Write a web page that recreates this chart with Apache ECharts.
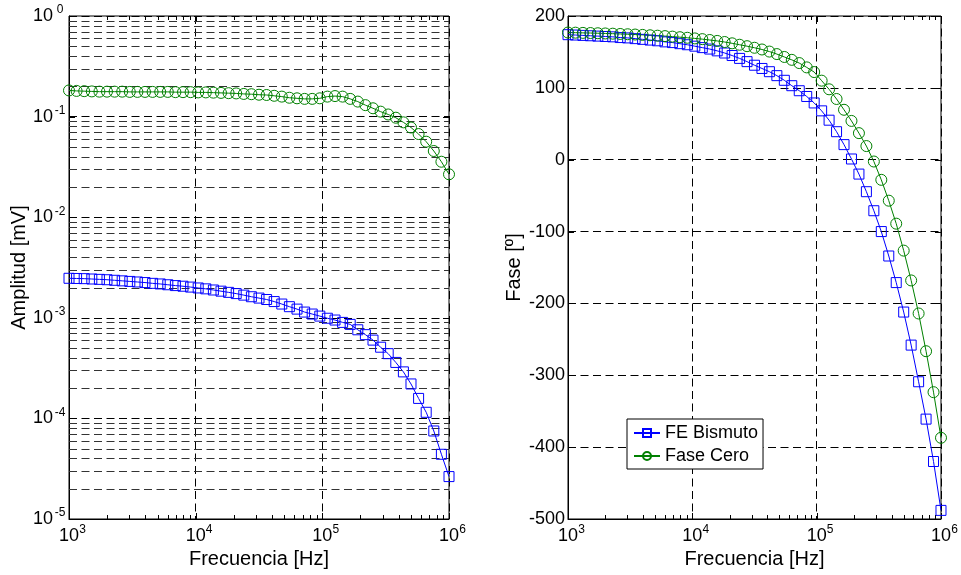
<!DOCTYPE html>
<html><head><meta charset="utf-8">
<script src="https://cdn.jsdelivr.net/npm/echarts@6/dist/echarts.min.js"></script>
<style>html,body{margin:0;padding:0;background:#fff}#c{width:961px;height:575px}</style>
</head><body><div id="c"></div>
<script>
// ---- data ----
const freq = [1000, 1148, 1318, 1514, 1738, 1995, 2291, 2630, 3020, 3467, 3981, 4571, 5248, 6026, 6918, 7943, 9120,
  10471, 12023, 13804, 15849, 18197, 20893, 23988, 27542, 31623, 36308, 41687, 47863, 54954, 63096, 72444, 83176, 95499,
  109648, 125893, 144544, 165959, 190546, 218776, 251189, 288403, 331131, 380189, 436516, 501187, 575440, 660693, 758578, 870964, 1000000];
const ampBismuto = [0.00247, 0.00246, 0.00245, 0.00243, 0.00241, 0.00239, 0.00236, 0.00233, 0.00230, 0.00227, 0.00224,
  0.00220, 0.00217, 0.00213, 0.00209, 0.00206, 0.00202, 0.00198, 0.00194, 0.00189, 0.00184, 0.00179, 0.00174, 0.00168,
  0.00162, 0.00157, 0.00152, 0.00145, 0.00137, 0.00129, 0.00122, 0.00114, 0.00109, 0.00104, 0.00099, 0.00095, 0.00090,
  0.00086, 0.00076, 0.00068, 0.00060, 0.00051, 0.00044, 0.00036, 0.00029, 0.00022, 0.000158, 0.000115, 0.000075, 0.000044, 0.0000264];
const ampCero = [0.182, 0.180, 0.179, 0.178, 0.177, 0.177, 0.177, 0.177, 0.176, 0.176, 0.176, 0.176, 0.176, 0.176, 0.175,
  0.175, 0.175, 0.174, 0.174, 0.173, 0.172, 0.171, 0.170, 0.168, 0.167, 0.165, 0.164, 0.161, 0.158, 0.154, 0.152, 0.150,
  0.150, 0.152, 0.158, 0.160, 0.158, 0.150, 0.141, 0.130, 0.121, 0.112, 0.105, 0.0975, 0.0877, 0.0779, 0.0671, 0.0563, 0.0455, 0.0356, 0.0267];
const phaseBismuto = [174, 173.5, 173, 172.5, 172, 171.5, 171, 170, 169.5, 168.5, 167.5, 166.5, 165.5, 164, 163, 161.5, 160,
  158, 156, 154, 151.5, 148.5, 145, 141, 136.5, 131.5, 127, 122.5, 117, 110.5, 103, 96, 88, 79, 68, 55, 39, 21, 1, -20,
  -44.5, -71, -100, -134, -171, -212, -258, -309, -361, -420, -488];
const phaseCero = [177, 176.8, 176.5, 176.3, 176, 175.7, 175.4, 175, 174.6, 174.2, 173.7, 173.2, 172.6, 172, 171.3, 170.5,
  169.7, 168.8, 167.8, 166.6, 165.3, 163.8, 162, 160, 158, 155.8, 153.4, 150.5, 147, 143, 139, 134.5, 128.5, 122, 110, 98,
  84.5, 69.5, 54, 37, 19, -2.5, -28, -57, -89, -126.5, -168, -214, -266.5, -323.5, -387];
const seriesNames = ['FE Bismuto', 'Fase Cero'];
const xTickExp = [3, 4, 5, 6];
const ampTickExp = [0, -1, -2, -3, -4, -5];
const phaseTicks = [200, 100, 0, -100, -200, -300, -400, -500];
const minorMult = [2, 3, 4, 5, 6, 7, 8, 9];

// ---- helpers ----
const FONT = 'Liberation Sans, Arial, Helvetica, sans-serif';
const BLUE = '#0000ff', GREEN = '#008000';
const zip = (xs, ys) => xs.map((x, i) => [x, ys[i]]);
const pow10 = e => Math.pow(10, e);
const xMajors = xTickExp.map(pow10);
const xMinors = [];
xTickExp.slice(0, -1).forEach(e => minorMult.forEach(m => xMinors.push(m * pow10(e))));
const ampMajors = ampTickExp.map(pow10);
const ampMinors = [];
ampTickExp.slice(1).forEach(e => minorMult.forEach(m => ampMinors.push(m * pow10(e))));
const xMin = xMajors[0], xMax = xMajors[xMajors.length - 1];
const ampMin = Math.min(...ampMajors), ampMax = Math.max(...ampMajors);
const phMin = Math.min(...phaseTicks), phMax = Math.max(...phaseTicks);

// kinds: 0 x-major tick, 1 x-minor tick, 2 y-major tick, 3 y-minor tick, 4 y-minor grid line
function decoData(yRef, yMajors, yMinors, withGrid) {
  const d = [];
  xMajors.forEach(v => d.push([v, yRef, 0]));
  xMinors.forEach(v => d.push([v, yRef, 1]));
  yMajors.forEach(v => d.push([xMin, v, 2]));
  yMinors.forEach(v => d.push([xMin, v, 3]));
  if (withGrid) yMinors.forEach(v => d.push([xMin, v, 4]));
  return d;
}
const LINE_STYLE = { stroke: '#000', lineWidth: 1 };
function renderDeco(params, api) {
  const kind = api.value(2);
  const cs = params.coordSys;
  const p = api.coord([api.value(0), api.value(1)]);
  const L = (kind === 0 || kind === 2) ? 6 : 4;
  const els = [];
  if (kind === 0 || kind === 1) {
    const x = Math.round(p[0]) + 0.5, yb = cs.y + cs.height, yt = cs.y;
    els.push({ type: 'line', shape: { x1: x, y1: yb, x2: x, y2: yb - L }, style: LINE_STYLE });
    els.push({ type: 'line', shape: { x1: x, y1: yt, x2: x, y2: yt + L }, style: LINE_STYLE });
  } else if (kind === 2 || kind === 3) {
    const y = Math.round(p[1]) + 0.5, xl = cs.x, xr = cs.x + cs.width;
    els.push({ type: 'line', shape: { x1: xl, y1: y, x2: xl + L, y2: y }, style: LINE_STYLE });
    els.push({ type: 'line', shape: { x1: xr, y1: y, x2: xr - L, y2: y }, style: LINE_STYLE });
  } else {
    const y = Math.round(p[1]) + 0.5;
    els.push({ type: 'line', shape: { x1: cs.x, y1: y, x2: cs.x + cs.width, y2: y },
      style: { stroke: '#333', lineWidth: 1, lineDash: [8, 4.5] } });
  }
  return { type: 'group', children: els };
}

const richX = {
  p: { width: 7, fontSize: 12, fontFamily: FONT },
  b: { fontSize: 18, lineHeight: 24, color: '#000', fontFamily: FONT },
  s: { fontSize: 12, lineHeight: 12, verticalAlign: 'top', color: '#000', fontFamily: FONT, width: 7, align: 'left' }
};
const richY = {
  b: { fontSize: 18, lineHeight: 24, color: '#000', fontFamily: FONT },
  s: { fontSize: 12, lineHeight: 12, verticalAlign: 'top', color: '#000', fontFamily: FONT, width: 14, align: 'left' }
};
const expOf = v => Math.round(Math.log10(v));

function xAxisDef(gi) {
  return {
    gridIndex: gi, type: 'log', logBase: 10, min: xMin, max: xMax, splitNumber: xTickExp.length - 1,
    axisLine: { show: true, onZero: false, lineStyle: { color: '#000', width: 1 } },
    axisTick: { show: false },
    axisLabel: { margin: 5, formatter: v => '{p|}{b|10}{s|' + expOf(v) + '}', rich: richX },
    splitLine: { show: true, lineStyle: { color: '#000', width: 1, type: [8, 4.5] } },
    name: 'Frecuencia [Hz]', nameLocation: 'middle', nameGap: 29,
    nameTextStyle: { fontSize: 20, color: '#000', fontFamily: FONT }
  };
}

const option = {
  animation: false,
  backgroundColor: '#fff',
  textStyle: { fontFamily: FONT },
  grid: [
    { left: 69, top: 16, width: 380, height: 503, show: true, borderColor: '#000', borderWidth: 1, backgroundColor: '#fff' },
    { left: 568, top: 16, width: 380, height: 503, show: true, borderColor: '#000', borderWidth: 1, backgroundColor: '#fff' }
  ],
  xAxis: [xAxisDef(0), xAxisDef(1)],
  yAxis: [
    {
      gridIndex: 0, type: 'log', logBase: 10, min: ampMin, max: ampMax, splitNumber: ampTickExp.length - 1,
      axisLine: { show: true, onZero: false, lineStyle: { color: '#000' } }, axisTick: { show: false },
      axisLabel: { margin: 2, formatter: v => '{b|10}{s|' + expOf(v) + '}', rich: richY },
      splitLine: { show: true, lineStyle: { color: '#000', width: 1, type: [8, 4.5] } },
      name: 'Amplitud [mV]', nameLocation: 'middle', nameGap: 36,
      nameTextStyle: { fontSize: 20, color: '#000', fontFamily: FONT }
    },
    {
      gridIndex: 1, type: 'value', min: phMin, max: phMax, interval: 100,
      axisLine: { show: true, onZero: false, lineStyle: { color: '#000' } }, axisTick: { show: false },
      axisLabel: { margin: 3, fontSize: 18, color: '#000', fontFamily: FONT },
      splitLine: { show: true, lineStyle: { color: '#000', width: 1, type: [8, 4.5] } },
      name: 'Fase [º]', nameLocation: 'middle', nameGap: 44,
      nameTextStyle: { fontSize: 20, color: '#000', fontFamily: FONT }
    }
  ],
  legend: {
    orient: 'vertical', left: 627, top: 419, data: seriesNames,
    backgroundColor: '#fff', borderColor: '#000', borderWidth: 1, padding: [5, 5, 4, 6],
    itemWidth: 26, itemHeight: 10, itemGap: 5,
    textStyle: { fontSize: 18, color: '#000', fontFamily: FONT }
  },
  series: [
    { type: 'custom', xAxisIndex: 0, yAxisIndex: 0, data: decoData(ampMin, ampMajors, ampMinors, true),
      renderItem: renderDeco, silent: true, z: 1, encode: { x: 0, y: 1 } },
    { type: 'custom', xAxisIndex: 1, yAxisIndex: 1, data: decoData(phMin, phaseTicks, [], false),
      renderItem: renderDeco, silent: true, z: 1, encode: { x: 0, y: 1 } },
    { name: seriesNames[0], type: 'line', xAxisIndex: 0, yAxisIndex: 0, data: zip(freq, ampBismuto),
      symbol: 'rect', symbolSize: 10, showAllSymbol: true, z: 3,
      itemStyle: { color: 'rgba(0,0,0,0)', borderColor: BLUE, borderWidth: 1 }, lineStyle: { color: BLUE, width: 1 } },
    { name: seriesNames[1], type: 'line', xAxisIndex: 0, yAxisIndex: 0, data: zip(freq, ampCero),
      symbol: 'circle', symbolSize: 11, showAllSymbol: true, z: 3,
      itemStyle: { color: 'rgba(0,0,0,0)', borderColor: GREEN, borderWidth: 1 }, lineStyle: { color: GREEN, width: 1 } },
    { name: seriesNames[0], type: 'line', xAxisIndex: 1, yAxisIndex: 1, data: zip(freq, phaseBismuto),
      symbol: 'rect', symbolSize: 10, showAllSymbol: true, z: 3,
      itemStyle: { color: 'rgba(0,0,0,0)', borderColor: BLUE, borderWidth: 1 }, lineStyle: { color: BLUE, width: 1 } },
    { name: seriesNames[1], type: 'line', xAxisIndex: 1, yAxisIndex: 1, data: zip(freq, phaseCero),
      symbol: 'circle', symbolSize: 11, showAllSymbol: true, z: 3,
      itemStyle: { color: 'rgba(0,0,0,0)', borderColor: GREEN, borderWidth: 1 }, lineStyle: { color: GREEN, width: 1 } }
  ]
};
const chart = echarts.init(document.getElementById('c'), null, { renderer: 'canvas' });
chart.setOption(option);
</script></body></html>
